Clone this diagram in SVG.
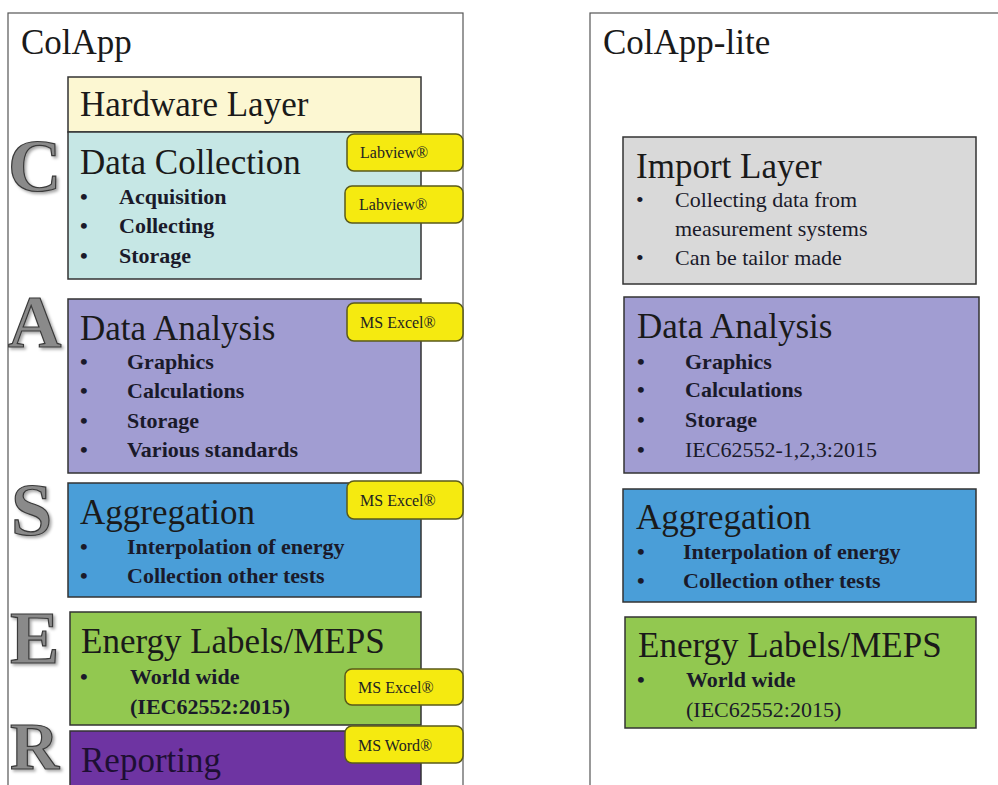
<svg xmlns="http://www.w3.org/2000/svg" width="998" height="785" viewBox="0 0 998 785">
<defs>
<filter id="sh" x="-20%" y="-20%" width="150%" height="150%"><feDropShadow dx="2" dy="2" stdDeviation="1.5" flood-color="#000" flood-opacity="0.35"/></filter>
</defs>
<style>
.frame{fill:#fff;stroke:#555;stroke-width:1.2}
.box{stroke:#333;stroke-width:1.5}
.title{font-family:"Liberation Serif",serif;font-size:35px;fill:#1a1a1a}
.item{font-family:"Liberation Serif",serif;font-size:22px;font-weight:bold;fill:#1a1a2a}
.big{font-family:"Liberation Serif",serif;font-size:74px;font-weight:bold;fill:#8a8a8a;stroke:#3a3a3a;stroke-width:1.2}
.tag rect{fill:#F5EA10;stroke:#5a5a1a;stroke-width:1.5}
.tag text{font-family:"Liberation Serif",serif;font-size:16px;fill:#222}
.hdr{font-family:"Liberation Serif",serif;font-size:35px;fill:#1a1a1a}
.n{font-weight:normal}
</style>
<rect width="998" height="785" fill="#fff"/>
<g id="colapp">
<rect class="frame" x="8" y="13" width="455" height="790"/>
<text class="hdr" x="21" y="54">ColApp</text>
</g>
<g id="colapp-lite">
<rect class="frame" x="590" y="13" width="420" height="790"/>
<text class="hdr" x="603" y="54">ColApp-lite</text>
</g>
<g id="letters" filter="url(#sh)">
<text class="big" x="8" y="191">C</text>
<text class="big" x="8" y="347">A</text>
<text class="big" x="11" y="535">S</text>
<text class="big" x="10" y="663">E</text>
<text class="big" x="10" y="769" style="font-size:68px">R</text>
</g>
<g id="hardware">
<rect class="box" x="68" y="77" width="353" height="55" fill="#FCF7D2"/>
<text class="title" x="80" y="116">Hardware Layer</text>
</g>
<g id="datacollection">
<rect class="box" x="68" y="132" width="353" height="147" fill="#C6E7E5"/>
<text class="title" x="80" y="174">Data Collection</text>
<text class="item" x="80" y="204">•</text><text class="item" x="119" y="204">Acquisition</text>
<text class="item" x="80" y="233">•</text><text class="item" x="119" y="233">Collecting</text>
<text class="item" x="80" y="263">•</text><text class="item" x="119" y="263">Storage</text>
</g>
<g id="dataanalysis">
<rect class="box" x="68" y="299" width="353" height="174" fill="#A19DD2"/>
<text class="title" x="80" y="340">Data Analysis</text>
<text class="item" x="80" y="369">•</text><text class="item" x="127" y="369">Graphics</text>
<text class="item" x="80" y="398">•</text><text class="item" x="127" y="398">Calculations</text>
<text class="item" x="80" y="428">•</text><text class="item" x="127" y="428">Storage</text>
<text class="item" x="80" y="457">•</text><text class="item" x="127" y="457">Various  standards</text>
</g>
<g id="aggregation">
<rect class="box" x="68" y="483" width="353" height="114" fill="#4A9ED8"/>
<text class="title" x="80" y="524">Aggregation</text>
<text class="item" x="80" y="554">•</text><text class="item" x="127" y="554">Interpolation  of energy</text>
<text class="item" x="80" y="583">•</text><text class="item" x="127" y="583">Collection  other tests</text>
</g>
<g id="energylabels">
<rect class="box" x="70" y="612" width="351" height="113" fill="#92C850"/>
<text class="title" x="81" y="653">Energy Labels/MEPS</text>
<text class="item" x="80" y="684">•</text><text class="item" x="130" y="684">World wide</text>
<text class="item" x="130" y="714">(IEC62552:2015)</text>
</g>
<g id="reporting">
<rect class="box" x="70" y="731" width="351" height="70" fill="#6E34A2"/>
<text class="title" x="81" y="772" style="fill:#1e0f33">Reporting</text>
</g>
<g id="tags">
<g class="tag"><rect x="347" y="134" width="116" height="37" rx="7"/><text x="360" y="158">Labview®</text></g>
<g class="tag"><rect x="345" y="186" width="118" height="37" rx="7"/><text x="359" y="210">Labview®</text></g>
<g class="tag"><rect x="347" y="303" width="116" height="38" rx="7"/><text x="360" y="328">MS Excel®</text></g>
<g class="tag"><rect x="347" y="481" width="116" height="38" rx="7"/><text x="360" y="506">MS Excel®</text></g>
<g class="tag"><rect x="345" y="669" width="118" height="36" rx="7"/><text x="358" y="693">MS Excel®</text></g>
<g class="tag"><rect x="345" y="726" width="118" height="37" rx="7"/><text x="358" y="751">MS Word®</text></g>
</g>
<g id="importlayer">
<rect class="box" x="623" y="137" width="353" height="147" fill="#D9D9D9"/>
<text class="title" x="636" y="178">Import Layer</text>
<text class="item n" x="636" y="207">•</text><text class="item n" x="675" y="207">Collecting  data from</text>
<text class="item n" x="675" y="236">measurement  systems</text>
<text class="item n" x="636" y="265">•</text><text class="item n" x="675" y="265">Can be tailor  made</text>
</g>
<g id="dataanalysis-lite">
<rect class="box" x="624" y="297" width="355" height="176" fill="#A19DD2"/>
<text class="title" x="637" y="338">Data Analysis</text>
<text class="item" x="637" y="369">•</text><text class="item" x="685" y="369">Graphics</text>
<text class="item" x="637" y="397">•</text><text class="item" x="685" y="397">Calculations</text>
<text class="item" x="637" y="427">•</text><text class="item" x="685" y="427">Storage</text>
<text class="item" x="637" y="457">•</text><text class="item n" x="685" y="457">IEC62552-1,2,3:2015</text>
</g>
<g id="aggregation-lite">
<rect class="box" x="623" y="489" width="353" height="113" fill="#4A9ED8"/>
<text class="title" x="636" y="529">Aggregation</text>
<text class="item" x="637" y="559">•</text><text class="item" x="683" y="559">Interpolation  of energy</text>
<text class="item" x="637" y="588">•</text><text class="item" x="683" y="588">Collection  other tests</text>
</g>
<g id="energylabels-lite">
<rect class="box" x="625" y="617" width="351" height="111" fill="#92C850"/>
<text class="title" x="638" y="657">Energy Labels/MEPS</text>
<text class="item" x="637" y="687">•</text><text class="item" x="686" y="687">World wide</text>
<text class="item n" x="686" y="717">(IEC62552:2015)</text>
</g>
<g id="connectors"/>
</svg>
